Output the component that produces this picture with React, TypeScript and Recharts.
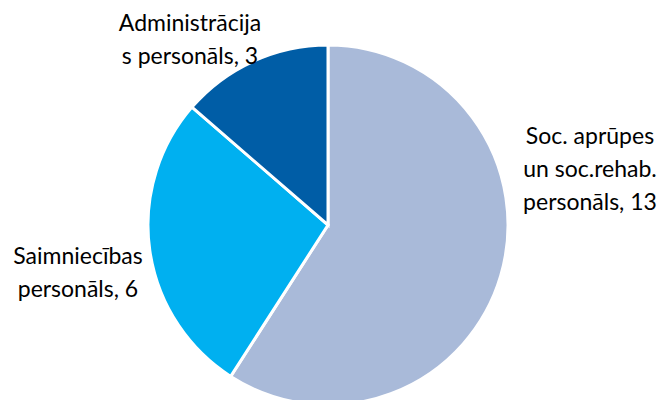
import { PieChart, Pie, Cell } from 'recharts';

const categories = ['Soc. aprūpes un soc.rehab. personāls', 'Saimniecības personāls', 'Administrācijas personāls'];
const values = [13, 6, 3];
const labelLines = [
  ['Soc. aprūpes', 'un soc.rehab.', 'personāls, 13'],
  ['Saimniecības', 'personāls, 6'],
  ['Administrācija', 's personāls, 3'],
];
const colors = ['#A9BAD9', '#00B0F0', '#005DA6'];

const data = categories.map((name, i) => ({ name, value: values[i] }));

// label anchor offsets from the pie centre (x = line centre, y = first line middle)
const labelOffsets = [
  { dx: 262, dy: -90 },
  { dx: -250, dy: 30 },
  { dx: -138, dy: -203 },
];

const renderLabel = (props: any) => {
  const { cx, cy, index } = props;
  const off = labelOffsets[index];
  return (
    <text
      x={cx + off.dx}
      y={cy + off.dy}
      textAnchor="middle"
      dominantBaseline="central"
      fill="#000"
      fontSize={23}
      fontFamily="Lato, 'Open Sans', sans-serif"
    >
      {labelLines[index].map((line, i) => (
        <tspan key={i} x={cx + off.dx} dy={i === 0 ? 0 : 33}>
          {line}
        </tspan>
      ))}
    </text>
  );
};

export default function App() {
  return (
    <div style={{ position: 'absolute', left: 0, top: 0 }}>
      <PieChart width={667} height={400} margin={{ top: 0, right: 0, bottom: 0, left: 0 }}>
        <Pie
          data={data}
          dataKey="value"
          cx={328}
          cy={225}
          outerRadius={180}
          startAngle={90}
          endAngle={-270}
          stroke="#fff"
          strokeWidth={3}
          label={renderLabel}
          labelLine={false}
          isAnimationActive={false}
        >
          {data.map((d, i) => (
            <Cell key={d.name} fill={colors[i]} />
          ))}
        </Pie>
      </PieChart>
    </div>
  );
}
